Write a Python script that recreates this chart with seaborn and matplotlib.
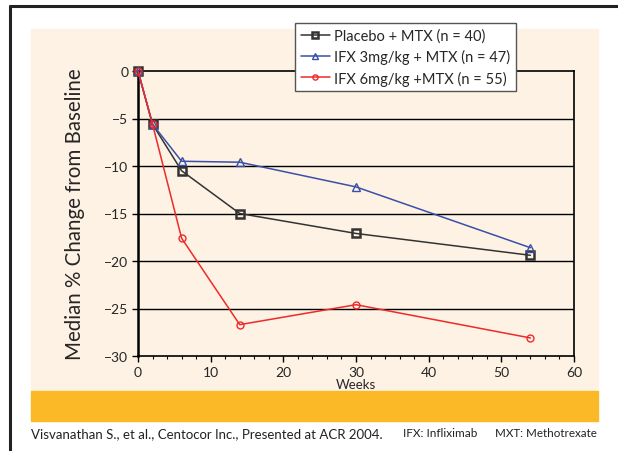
import matplotlib
matplotlib.use("Agg")
import matplotlib.pyplot as plt
import matplotlib.patches as mpatches
from matplotlib.ticker import MultipleLocator
import seaborn as sns
import pandas as pd

weeks = [0, 2, 6, 14, 30, 54]
placebo = [0, -5.6, -10.5, -15.0, -17.1, -19.4]
ifx3 = [0, -5.6, -9.5, -9.6, -12.2, -18.6]
ifx6 = [0, -5.6, -17.6, -26.7, -24.6, -28.1]
labels = ["Placebo + MTX (n = 40)", "IFX 3mg/kg + MTX (n = 47)", "IFX 6mg/kg +MTX (n = 55)"]
series = [placebo, ifx3, ifx6]

sns.set_style("white")
plt.rcParams['font.family'] = ['Lato', 'DejaVu Sans']

W, H = 618, 452
fig = plt.figure(figsize=(W / 100, H / 100), dpi=100)

def px(x0, y0, x1, y1):
    return (x0 / W, 1 - y1 / H, (x1 - x0) / W, (y1 - y0) / H)

# background panels
l, b, w, h = px(31, 30, 598, 392)
fig.add_artist(mpatches.Rectangle((l, b), w, h, transform=fig.transFigure, color="#fdf2e4", zorder=-2))
l, b, w, h = px(31, 392, 598, 422)
fig.add_artist(mpatches.Rectangle((l, b), w, h, transform=fig.transFigure, color="#fbb827", zorder=-2))
# outer frame lines
fig.add_artist(plt.Line2D([10 / W, 10 / W], [0, 1 - 7 / H], transform=fig.transFigure, color="#222222", lw=2.2, zorder=-1))
fig.add_artist(plt.Line2D([10 / W, 1], [1 - 7 / H, 1 - 7 / H], transform=fig.transFigure, color="#222222", lw=2.2, zorder=-1))

ax = fig.add_axes(px(138, 72, 574, 357))
ax.set_facecolor("none")
ax.set_zorder(1)

styles = [
    dict(color="#333333", marker="s", ms=5.5, mec="#333333", mfc="none", mew=1.8),
    dict(color="#3a4fa8", marker="^", ms=6, mec="#3a4fa8", mfc="none", mew=1.0),
    dict(color="#ee2a2a", marker="o", ms=5, mec="#ee2a2a", mfc="none", mew=1.0),
]
frames = []
for lab, vals in zip(labels, series):
    frames.append(pd.DataFrame({"Weeks": weeks, "Change": vals, "Group": lab}))
df = pd.concat(frames, ignore_index=True)

for lab, st in zip(labels, styles):
    sub = df[df["Group"] == lab]
    sns.lineplot(data=sub, x="Weeks", y="Change", ax=ax, label=lab, lw=1.1,
                 clip_on=False, zorder=3, **st)

ax.set_xlim(0, 60)
ax.set_ylim(-30, 0)
ax.xaxis.set_major_locator(MultipleLocator(10))
ax.xaxis.set_minor_locator(MultipleLocator(2))
ax.yaxis.set_major_locator(MultipleLocator(5))
for y in [-5, -10, -15, -20, -25]:
    ax.axhline(y, color="black", lw=1.0, zorder=1)
for s in ax.spines.values():
    s.set_color("black")
    s.set_linewidth(1.2)
ax.spines["left"].set_linewidth(1.8)
ax.tick_params(axis="both", which="major", direction="out", length=4, width=1, color="black",
               labelsize=10, pad=3, left=True, bottom=True)
ax.tick_params(axis="x", which="minor", direction="out", length=2.5, width=0.8, color="black", bottom=True)
ax.set_xlabel("Weeks", fontsize=9.5, labelpad=0)
ax.set_ylabel("Median % Change from Baseline", fontsize=14.8, labelpad=14)

leg = ax.legend(loc="upper left", bbox_to_anchor=(295 / W, 1 - 24 / H), bbox_transform=fig.transFigure,
                frameon=True, fancybox=False, fontsize=10.5, handlelength=2.0, borderpad=0.4,
                labelspacing=0.42, handletextpad=0.3, borderaxespad=0, markerscale=0.75)
leg.get_frame().set_edgecolor("#555555")
leg.get_frame().set_linewidth(1.0)
leg.get_frame().set_facecolor("white")
leg.get_frame().set_alpha(1)

fig.text(31 / W, 1 - 434 / H, "Visvanathan S., et al., Centocor Inc., Presented at ACR 2004.",
         fontsize=9.5, ha="left", va="center", color="#222222")
fig.text(403 / W, 1 - 434 / H, "IFX: Infliximab", fontsize=8.5, ha="left", va="center", color="#222222")
fig.text(597 / W, 1 - 434 / H, "MXT: Methotrexate", fontsize=8.4, ha="right", va="center", color="#222222")

fig.savefig("out.png", dpi=100)
